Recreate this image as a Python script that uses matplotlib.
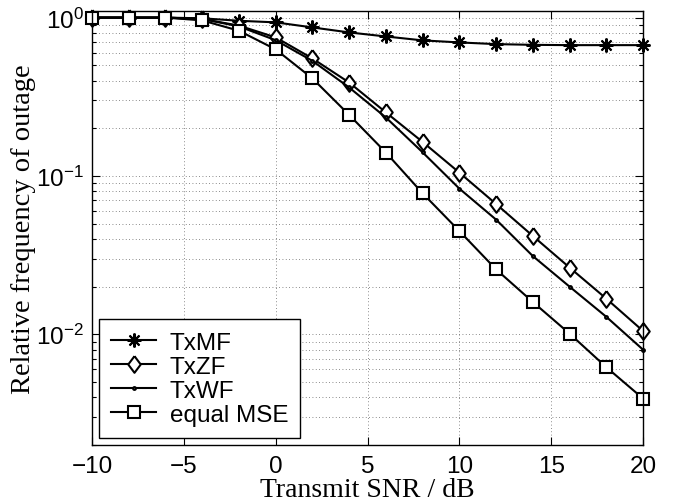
import numpy as np
import matplotlib
matplotlib.use("Agg")
import matplotlib.pyplot as plt
from matplotlib.ticker import LogLocator, NullFormatter

# transmit SNR in dB
snr = [-10, -8, -6, -4, -2, 0, 2, 4, 6, 8, 10, 12, 14, 16, 18, 20]

# relative frequency of outage
txmf = [1.0, 1.0, 1.0, 0.99, 0.955, 0.933, 0.867, 0.806, 0.760, 0.718,
        0.697, 0.680, 0.673, 0.670, 0.670, 0.670]
txzf = [1.0, 1.0, 1.0, 0.98, 0.89, 0.75, 0.552, 0.389, 0.252, 0.164,
        0.105, 0.0665, 0.0418, 0.0264, 0.0168, 0.0105]
txwf = [1.0, 1.0, 1.0, 0.98, 0.88, 0.72, 0.533, 0.362, 0.234, 0.141,
        0.0832, 0.053, 0.0312, 0.020, 0.0129, 0.0080]
eqmse = [1.0, 1.0, 1.0, 0.96, 0.826, 0.63, 0.413, 0.243, 0.1406, 0.0777,
         0.0449, 0.0257, 0.016, 0.0101, 0.0062, 0.00393]

labels = ["TxMF", "TxZF", "TxWF", "equal MSE"]

plt.rcParams["font.family"] = ["Liberation Sans", "DejaVu Sans"]
plt.rcParams["mathtext.default"] = "regular"

fig = plt.figure(figsize=(6.78, 5.02), dpi=100)
ax = fig.add_axes([0.1357, 0.1116, 0.8127, 0.8644])

diamond = [(0, 1), (0.75, 0), (0, -1), (-0.75, 0), (0, 1)]
kw = dict(color="black", lw=1.5, mfc="white", mec="black", mew=1.5,
          clip_on=False)
ax.plot(snr, txmf, marker=(8, 2, 0), ms=10, label=labels[0], **kw)
ax.plot(snr, txzf, marker=diamond, ms=12, label=labels[1], **kw)
ax.plot(snr, txwf, marker=".", ms=4, label=labels[2], **kw)
ax.plot(snr, eqmse, marker="s", ms=8.5, label=labels[3], **kw)

ax.set_yscale("log")
ax.set_xlim(-10, 20)
ax.set_ylim(0.002, 1.1)
ax.set_xticks([-10, -5, 0, 5, 10, 15, 20])
ax.yaxis.set_major_locator(LogLocator(base=10, numticks=10))
ax.yaxis.set_minor_locator(LogLocator(base=10, subs=np.arange(2, 10), numticks=20))
ax.yaxis.set_minor_formatter(NullFormatter())

ax.tick_params(which="both", direction="in", top=True, right=True,
               labelsize=17.5, width=0.8)
ax.tick_params(which="major", length=6)
ax.tick_params(which="minor", length=3)
ax.tick_params(axis="x", pad=7)
ax.tick_params(axis="y", pad=6)

grid_kw = dict(color="#666666", lw=0.6, linestyle=(0, (1, 3)))
ax.xaxis.grid(True, which="major", **grid_kw)
ax.yaxis.grid(True, which="both", **grid_kw)
for s in ax.spines.values():
    s.set_linewidth(1.0)

ax.set_xlabel("Transmit SNR / dB", family="Liberation Serif", fontsize=20,
              labelpad=0)
ax.set_ylabel("Relative frequency of outage", family="Liberation Serif",
              fontsize=20.5, labelpad=0)

leg = ax.legend(loc="lower left", fontsize=17.5, frameon=True, fancybox=False,
                edgecolor="black", framealpha=1, handlelength=1.85,
                handletextpad=0.55, labelspacing=0.08, borderpad=0.5,
                borderaxespad=0.3)
leg.get_frame().set_linewidth(1.0)

fig.savefig("out.png", dpi=100)
